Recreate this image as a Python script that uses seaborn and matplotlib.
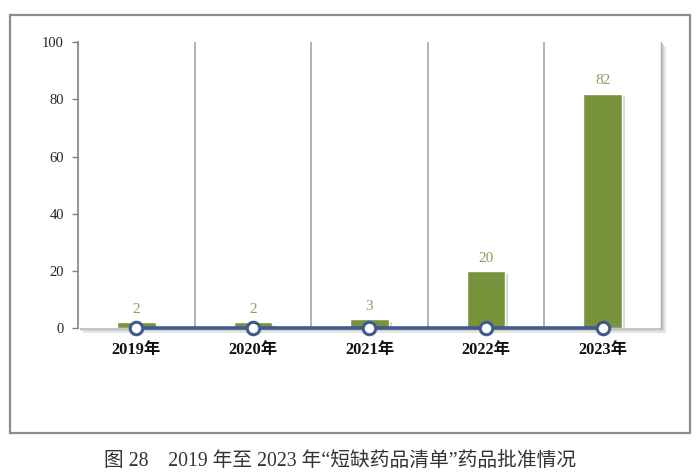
import matplotlib
matplotlib.use("Agg")
import matplotlib.pyplot as plt
import matplotlib.patheffects as pe
from matplotlib.patches import Rectangle
import seaborn as sns
import pandas as pd

years = ["2019年", "2020年", "2021年", "2022年", "2023年"]
approvals = [2, 2, 3, 20, 82]
baseline = [0, 0, 0, 0, 0]
yticks = [0, 20, 40, 60, 80, 100]
caption = "图 28　2019 年至 2023 年“短缺药品清单”药品批准情况"

df = pd.DataFrame({"year": years, "n": approvals, "base": baseline})

sns.set_theme(style="white")
plt.rcParams['font.family'] = ['Liberation Serif', 'Noto Sans CJK SC', 'DejaVu Sans']

fig = plt.figure(figsize=(7.0, 4.74), dpi=100)

# outer frame
fig.add_artist(Rectangle((0.0143, 0.0865), 0.9714, 0.882, transform=fig.transFigure,
                         fill=False, edgecolor="#8c8c8c", linewidth=1.6))

ax = fig.add_axes([0.1114, 0.308, 0.8329, 0.603])

# plot area shadow (soft)
for k, c in enumerate(["#e4e4e4", "#d2d2d2", "#c4c4c4"]):
    off = 0.0065 - k * 0.0018
    fig.add_artist(Rectangle((0.1114 + off, 0.308 - off * 1.48), 0.8329, 0.603,
                             transform=fig.transFigure, facecolor=c, edgecolor="none", zorder=0))
ax.set_zorder(1)
ax.patch.set_facecolor("white")

sns.barplot(data=df, x="year", y="n", color="#77933C", width=0.33, saturation=1,
            ax=ax, zorder=3)
for bar in ax.patches:
    bar.set_path_effects([pe.SimplePatchShadow(offset=(2, -2), shadow_rgbFace="#b0b0b0", alpha=0.5),
                          pe.Normal()])

for i, v in enumerate(approvals):
    ax.text(i, v + 2.2, str(v), ha="center", va="bottom", color="#8a9d5a", fontsize=11)

sns.lineplot(data=df, x="year", y="base", color="#3f5a8c", linewidth=2.6, marker="o",
             markersize=9, markerfacecolor="white", markeredgecolor="#3f5a8c",
             markeredgewidth=2.2, ax=ax, zorder=5, clip_on=False)

ax.set_ylim(0, 100)
ax.set_xlim(-0.5, 4.5)
ax.set_yticks(yticks)
ax.set_yticklabels([str(t) for t in yticks], fontsize=10.5)
ax.tick_params(axis="y", left=True, length=4, width=1, color="#808080", pad=6)
ax.tick_params(axis="x", bottom=False, pad=4)
for lbl in ax.get_xticklabels():
    lbl.set_fontweight("bold")
    lbl.set_fontsize(11.8)
    lbl.set_color("#111111")
ax.set_xlabel("")
ax.set_ylabel("")

# vertical gridlines at category boundaries
for b in [0.5, 1.5, 2.5, 3.5]:
    ax.axvline(b, color="#a6a6a6", linewidth=1.2, zorder=1)

for s in ["top", "bottom"]:
    ax.spines[s].set_visible(False)
ax.spines["left"].set_color("#808080")
ax.spines["left"].set_linewidth(1.2)
ax.spines["right"].set_color("#b0b0b0")
ax.spines["right"].set_linewidth(1.0)

fig.text(0.486, 0.026, caption, ha="center", va="center", fontsize=14.2, color="#333333")

fig.savefig("out.png", dpi=100)
